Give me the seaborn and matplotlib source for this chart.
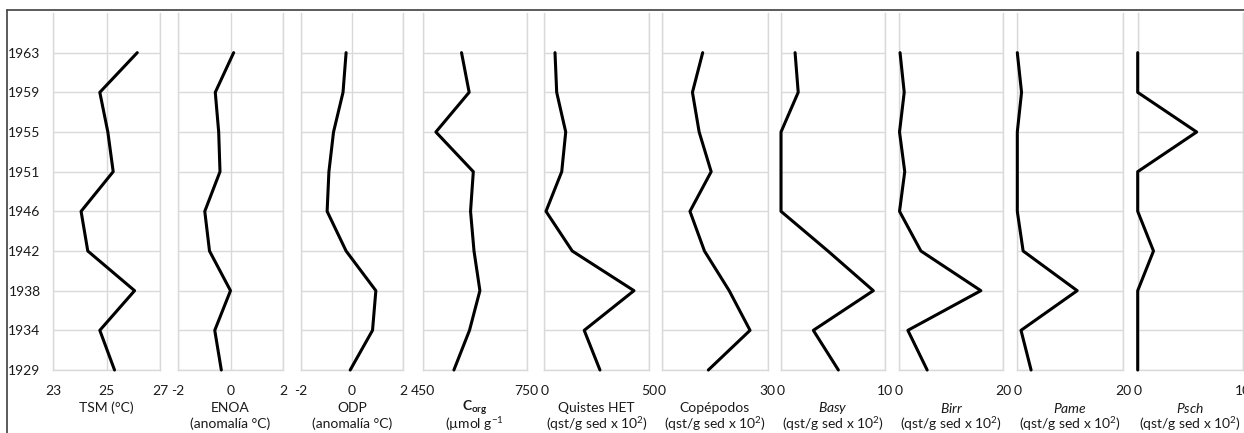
import matplotlib
matplotlib.use("Agg")
import matplotlib.pyplot as plt
from matplotlib.lines import Line2D
from matplotlib.transforms import blended_transform_factory
import seaborn as sns
import pandas as pd

# Sampled years (bottom to top), plotted on an evenly spaced category axis
years = ["1929", "1934", "1938", "1942", "1946", "1951", "1955", "1959", "1963"]

tsm = [25.3, 24.75, 26.05, 24.3, 24.05, 25.25, 25.05, 24.75, 26.15]
enoa = [-0.35, -0.6, 0.0, -0.8, -0.98, -0.4, -0.45, -0.58, 0.12]
odp = [-0.07, 0.8, 0.93, -0.23, -0.97, -0.9, -0.72, -0.35, -0.23]
corg = [540, 585, 615, 598, 588, 596, 488, 584, 562]
quistes_het = [26.5, 19.0, 42.7, 13.3, 0.8, 8.3, 10.2, 5.9, 5.1]
copepodos = [13.2, 25.0, 19.1, 12.1, 8.0, 14.0, 10.6, 8.7, 11.6]
basy = [5.5, 3.1, 8.85, 4.5, 0.0, 0.0, 0.0, 1.65, 1.35]
birr = [5.4, 1.7, 15.7, 4.2, 0.1, 1.1, 0.1, 1.0, 0.2]
pame = [2.6, 0.7, 11.3, 1.1, 0.0, 0.0, 0.0, 0.8, 0.0]
psch = [0.0, 0.0, 0.0, 1.5, 0.0, 0.0, 5.6, 0.0, 0.0]

series = [tsm, enoa, odp, corg, quistes_het, copepodos, basy, birr, pame, psch]

x_limits = [(23, 27), (-2, 2), (-2, 2), (450, 750), (0, 50),
            (0, 30), (0, 10), (0, 20), (0, 20), (0, 10)]

# Panels that show a labelled middle tick and gridline
mid_ticks = [25, 0, 0, None, None, None, None, None, None, None]

unit_qst = r"(qst/g sed x 10$^{\mathregular{2}}$)"
label_top = ["TSM (°C)", "ENOA", "ODP", r"$\mathbf{C}_{\mathbf{org}}$",
             "Quistes HET", "Copépodos", r"$\mathit{Basy}$", r"$\mathit{Birr}$",
             r"$\mathit{Pame}$", r"$\mathit{Psch}$"]
label_bottom = ["", "(anomalía °C)", "(anomalía °C)", r"(µmol g$^{\mathregular{-1}}$",
                unit_qst, unit_qst, unit_qst, unit_qst, unit_qst, unit_qst]

sns.set_theme(style="white")
plt.rcParams["font.family"] = ["Lato", "DejaVu Sans"]
plt.rcParams["mathtext.fontset"] = "custom"
plt.rcParams["mathtext.rm"] = "Lato"
plt.rcParams["mathtext.it"] = "Lato:italic"
plt.rcParams["mathtext.bf"] = "Lato:bold"

W, H = 1244, 433
fig = plt.figure(figsize=(W / 100, H / 100), dpi=100)
fig.patch.set_facecolor("white")

# Panel edges in pixels
lefts = [53, 178, 300.7, 422.7, 544.3, 661.7, 781, 899, 1017.3, 1137.7]
rights = [160, 283, 403.3, 526.7, 649.3, 767.7, 885.3, 1003.3, 1123.3, 1243]
top_px, bottom_px = 13, 370

grid_color = "#d9d9d9"
text_color = "#1a1a1a"
positions = list(range(len(years)))

for i, vals in enumerate(series):
    lo, hi = x_limits[i]
    l, r = lefts[i], rights[i]
    ax = fig.add_axes([l / W, 1 - bottom_px / H, (r - l) / W, (bottom_px - top_px) / H])
    df = pd.DataFrame({"value": vals, "pos": positions})
    sns.lineplot(data=df, x="value", y="pos", sort=False, estimator=None,
                 orient="y", color="black", lw=2.2, ax=ax)
    for line in ax.lines:
        line.set_zorder(4)
        line.set_clip_on(False)
    ax.set_xlim(lo, hi)
    ax.set_ylim(0, 9)

    ticks = [lo, hi] if mid_ticks[i] is None else [lo, mid_ticks[i], hi]
    ax.set_xticks(ticks)
    ax.set_xticklabels([f"{t:g}" for t in ticks])
    ax.set_yticks(positions)
    ax.set_yticklabels(years if i == 0 else [])
    ax.tick_params(axis="both", length=0, labelsize=10, colors=text_color)
    ax.tick_params(axis="x", pad=11)
    ax.tick_params(axis="y", pad=9)
    ax.grid(True, color=grid_color, lw=1.0)
    for side in ("left", "right", "bottom"):
        ax.spines[side].set_visible(True)
        ax.spines[side].set_color(grid_color)
        ax.spines[side].set_linewidth(1.0)
    ax.spines["top"].set_visible(False)
    ax.set_axisbelow(True)
    ax.set_xlabel("")
    ax.set_ylabel("")

    # Two-line axis caption under each panel
    tr = blended_transform_factory(ax.transAxes, fig.transFigure)
    ax.text(0.5, 1 - 408 / H, label_top[i], transform=tr, ha="center", va="center",
            fontsize=10, color=text_color)
    if label_bottom[i]:
        ax.text(0.5, 1 - 424 / H, label_bottom[i], transform=tr, ha="center",
                va="center", fontsize=10, color=text_color)

# Outer frame (top and left edges)
fig.add_artist(Line2D([7 / W, 1], [1 - 10 / H, 1 - 10 / H], color="#404040", lw=1.2))
fig.add_artist(Line2D([7 / W, 7 / W], [0, 1 - 10 / H], color="#404040", lw=1.2))

fig.savefig("out.png", dpi=100, facecolor="white")
